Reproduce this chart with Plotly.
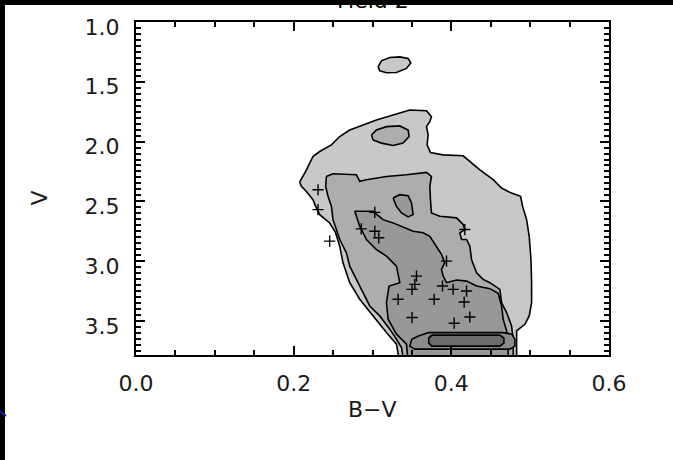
import plotly.graph_objects as go

# ---- contour level polygons (B-V, V) ----
lvl1_x = [0.2076, 0.2152, 0.2245, 0.2330, 0.2478, 0.2584, 0.2711, 0.2880, 0.3050, 0.3261,
          0.3473, 0.3685, 0.3748, 0.3727, 0.3685, 0.3706, 0.3693, 0.3735, 0.3896, 0.4150,
          0.4235, 0.4362, 0.4531, 0.4637, 0.4764, 0.4878, 0.4904, 0.4955, 0.4988, 0.5010,
          0.5018, 0.5018, 0.4988, 0.4933, 0.4828, 0.4828, 0.4828, 0.3346, 0.3304, 0.3177,
          0.3007, 0.2838, 0.2711, 0.2626, 0.2584, 0.2533, 0.2457, 0.2330, 0.2279, 0.2245,
          0.2161, 0.2098]
lvl1_y = [2.338, 2.250, 2.125, 2.083, 2.028, 1.958, 1.903, 1.861, 1.819, 1.778,
          1.736, 1.742, 1.792, 1.833, 1.875, 1.944, 2.028, 2.092, 2.111, 2.119,
          2.167, 2.236, 2.319, 2.389, 2.431, 2.458, 2.542, 2.653, 2.792, 2.986,
          3.181, 3.347, 3.458, 3.528, 3.583, 3.722, 3.850, 3.850, 3.694, 3.597,
          3.458, 3.319, 3.181, 3.014, 2.875, 2.764, 2.681, 2.611, 2.542, 2.486,
          2.417, 2.375]

lvl1_isl_x = [0.3071, 0.3113, 0.3219, 0.3346, 0.3452, 0.3486, 0.3431, 0.3304, 0.3177, 0.3092]
lvl1_isl_y = [1.375, 1.325, 1.297, 1.292, 1.305, 1.342, 1.388, 1.422, 1.425, 1.408]

lvl2_x = [0.2415, 0.2499, 0.2796, 0.2838, 0.2923, 0.3177, 0.3431, 0.3685, 0.3748, 0.3727,
          0.3735, 0.3748, 0.3854, 0.4066, 0.4150, 0.4171, 0.4108, 0.4130, 0.4193, 0.4235,
          0.4256, 0.4320, 0.4404, 0.4489, 0.4616, 0.4637, 0.4701, 0.4764, 0.4785, 0.4785,
          0.3397, 0.3368, 0.3304, 0.3219, 0.3092, 0.2965, 0.2880, 0.2796, 0.2711, 0.2669,
          0.2584, 0.2542, 0.2499, 0.2479, 0.2436, 0.2406]
lvl2_y = [2.292, 2.269, 2.278, 2.333, 2.319, 2.292, 2.278, 2.258, 2.292, 2.375,
          2.486, 2.597, 2.625, 2.638, 2.694, 2.736, 2.763, 2.819, 2.819, 2.875,
          2.986, 3.097, 3.153, 3.180, 3.236, 3.347, 3.430, 3.542, 3.653, 3.850,
          3.850, 3.722, 3.653, 3.569, 3.458, 3.375, 3.263, 3.153, 3.042, 2.930,
          2.819, 2.736, 2.653, 2.542, 2.458, 2.375]

lvl2_isl_x = [0.2987, 0.3050, 0.3177, 0.3346, 0.3452, 0.3464, 0.3388, 0.3261, 0.3113, 0.3007]
lvl2_isl_y = [1.944, 1.903, 1.875, 1.869, 1.903, 1.958, 2.013, 2.033, 2.013, 1.986]

lvl3_x = [0.2775, 0.3007, 0.3134, 0.3261, 0.3515, 0.3642, 0.3727, 0.3790, 0.3875, 0.3917,
          0.3875, 0.3896, 0.3939, 0.4066, 0.4193, 0.4320, 0.4489, 0.4594, 0.4637, 0.4658,
          0.4701, 0.4721, 0.4721, 0.3452, 0.3431, 0.3304, 0.3198, 0.3177, 0.3210, 0.3346,
          0.3304, 0.3177, 0.3050, 0.2923, 0.2838]
lvl3_y = [2.583, 2.583, 2.653, 2.680, 2.750, 2.763, 2.792, 2.861, 2.944, 3.013,
          3.069, 3.125, 3.180, 3.158, 3.167, 3.208, 3.230, 3.269, 3.375, 3.486,
          3.583, 3.667, 3.850, 3.850, 3.694, 3.611, 3.486, 3.347, 3.208, 3.180,
          3.042, 2.958, 2.903, 2.819, 2.708]

lvl3_isl_x = [0.3261, 0.3346, 0.3452, 0.3495, 0.3515, 0.3452, 0.3368, 0.3304]
lvl3_isl_y = [2.472, 2.444, 2.453, 2.513, 2.611, 2.630, 2.597, 2.542]

lvl4_x = [0.3702, 0.4654, 0.4768, 0.4806, 0.4806, 0.4743, 0.3537, 0.3473, 0.3498, 0.3575]
lvl4_y = [3.598, 3.598, 3.611, 3.653, 3.711, 3.736, 3.736, 3.711, 3.653, 3.628]

lvl5_x = [0.3752, 0.4616, 0.4667, 0.4667, 0.4616, 0.3752, 0.3714, 0.3714]
lvl5_y = [3.619, 3.619, 3.644, 3.686, 3.711, 3.711, 3.686, 3.644]

# ---- individual stars (crosses) ----
star_x = [0.2309, 0.2309, 0.2457, 0.3029, 0.2857, 0.3029, 0.3079, 0.3939, 0.3558, 0.3537,
          0.3502, 0.3888, 0.4023, 0.4193, 0.3325, 0.3782, 0.4163, 0.3502, 0.4235, 0.4036,
          0.4171]
star_y = [2.403, 2.569, 2.833, 2.592, 2.730, 2.750, 2.805, 3.000, 3.125, 3.194,
          3.236, 3.208, 3.236, 3.250, 3.319, 3.319, 3.342, 3.472, 3.467, 3.519,
          2.736]

x_ticks = [0.0, 0.2, 0.4, 0.6]
x_ticklabels = ["0.0", "0.2", "0.4", "0.6"]
y_ticks = [1.0, 1.5, 2.0, 2.5, 3.0, 3.5]
y_ticklabels = ["1.0", "1.5", "2.0", "2.5", "3.0", "3.5"]

fills = [
    (lvl1_x, lvl1_y, "#c8c8c8"),
    (lvl1_isl_x, lvl1_isl_y, "#c8c8c8"),
    (lvl2_x, lvl2_y, "#adadad"),
    (lvl2_isl_x, lvl2_isl_y, "#adadad"),
    (lvl3_x, lvl3_y, "#989898"),
    (lvl3_isl_x, lvl3_isl_y, "#989898"),
    (lvl4_x, lvl4_y, "#8c8c8c"),
    (lvl5_x, lvl5_y, "#6c6c6c"),
]

fig = go.Figure()
for xs, ys, col in fills:
    fig.add_trace(go.Scatter(
        x=xs + [xs[0]], y=ys + [ys[0]], mode="lines", fill="toself",
        fillcolor=col, line=dict(color="black", width=1.6),
        hoverinfo="skip", showlegend=False))

fig.add_trace(go.Scatter(
    x=star_x, y=star_y, mode="markers",
    marker=dict(symbol="cross-thin", size=8, line=dict(color="black", width=1.4)),
    showlegend=False))

font = dict(family="DejaVu Sans", size=22, color="#1a1a1a")

fig.update_layout(
    width=673, height=460,
    margin=dict(l=136, r=64, t=22, b=105),
    paper_bgcolor="white", plot_bgcolor="white",
    showlegend=False,
    font=font,
)
fig.update_xaxes(
    range=[0, 0.6], tickvals=x_ticks, ticktext=x_ticklabels,
    ticks="inside", ticklen=9, tickwidth=1.5, tickcolor="black",
    minor=dict(dtick=0.05, ticks="inside", ticklen=5, tickwidth=1.5, tickcolor="black"),
    showline=True, linecolor="black", linewidth=2, mirror="ticks",
    showgrid=False, zeroline=False, tickfont=font, ticklabelstandoff=8,
    automargin=False,
)
fig.update_yaxes(
    range=[3.785, 1.0], tickvals=y_ticks, ticktext=y_ticklabels,
    ticks="inside", ticklen=9, tickwidth=1.5, tickcolor="black",
    minor=dict(dtick=0.05, ticks="inside", ticklen=5, tickwidth=1.5, tickcolor="black"),
    showline=True, linecolor="black", linewidth=2, mirror="ticks",
    showgrid=False, zeroline=False, tickfont=font, ticklabelstandoff=10,
    ticklabelshift=-5, automargin=False,
)

fig.add_annotation(text="B\u2212V", xref="paper", yref="paper", x=0.5, y=-0.12,
                   xanchor="center", yanchor="top", showarrow=False, font=font)
fig.add_annotation(text="V", xref="paper", yref="paper", x=-0.205, y=0.47,
                   xanchor="center", yanchor="middle", textangle=-90,
                   showarrow=False, font=font)
# title of the original, mostly cut off at the top of the screenshot
fig.add_annotation(text="Field 2", xref="paper", yref="paper", x=0.5, y=1.02,
                   xanchor="center", yanchor="bottom", showarrow=False,
                   font=dict(family="DejaVu Sans", size=22, color="black"))

# black bands of the original screenshot (top and left)
fig.add_shape(type="rect", xref="paper", yref="paper", x0=-0.4, x1=1.4, y0=1.051, y1=1.3,
              fillcolor="black", line=dict(width=0), layer="above")
fig.add_shape(type="rect", xref="paper", yref="paper", x0=-0.4, x1=-0.277, y0=-0.5, y1=1.3,
              fillcolor="black", line=dict(width=0), layer="above")
fig.add_shape(type="line", xref="paper", yref="paper", x0=-0.2875, y0=-0.168,
              x1=-0.2748, y1=-0.183, line=dict(color="#1a1aa0", width=2), layer="above")

fig.write_html("out.html", post_script="document.body.style.margin='0';")
